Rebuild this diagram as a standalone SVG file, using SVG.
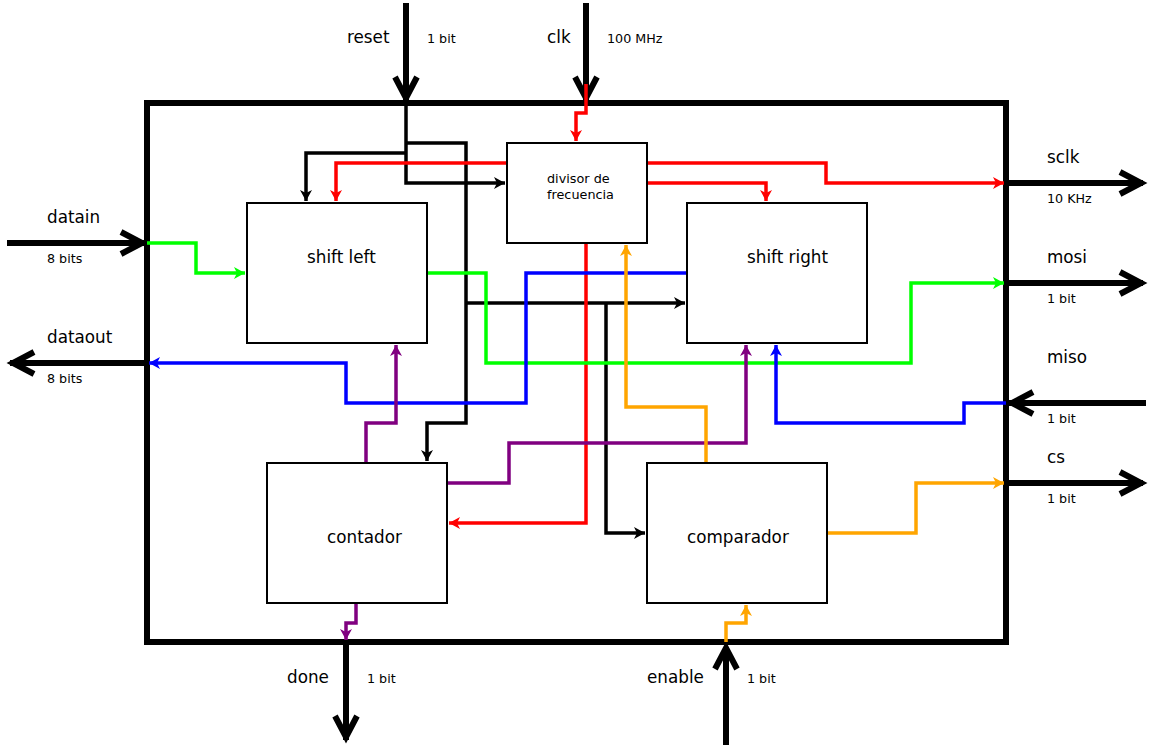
<svg xmlns="http://www.w3.org/2000/svg" width="1153" height="749" viewBox="0 0 1153 749">
  <defs>
    <style>
      text { font-family: "DejaVu Sans", "Liberation Sans", sans-serif; fill: #000; }
      .lbl { font-size: 16.8px; }
      .sub { font-size: 12.7px; }
      .small { font-size: 12.8px; }
      .box { fill: #fff; stroke: #000; stroke-width: 2; }
      .frame { fill: none; stroke: #000; stroke-width: 6; }
      .port { fill: none; stroke: #000; stroke-width: 6; }
      .vhead { fill: none; stroke: #000; stroke-width: 6; stroke-linejoin: miter; }
      .w { fill: none; stroke-width: 3.5; stroke-linejoin: miter; }
      .k { stroke: #000; }
      .r { stroke: #ff0000; }
      .g { stroke: #00ff00; }
      .b { stroke: #0000ff; }
      .p { stroke: #800080; }
      .o { stroke: #ffa500; }
    </style>
    <marker id="ak" markerUnits="userSpaceOnUse" markerWidth="14" markerHeight="14" viewBox="-12 -7 14 14" refX="0" refY="0" orient="auto"><path d="M0,0 L-11,-6 L-8,0 L-11,6 z" fill="#000"/></marker>
    <marker id="ar" markerUnits="userSpaceOnUse" markerWidth="14" markerHeight="14" viewBox="-12 -7 14 14" refX="0" refY="0" orient="auto"><path d="M0,0 L-11,-6 L-8,0 L-11,6 z" fill="#ff0000"/></marker>
    <marker id="ag" markerUnits="userSpaceOnUse" markerWidth="14" markerHeight="14" viewBox="-12 -7 14 14" refX="0" refY="0" orient="auto"><path d="M0,0 L-11,-6 L-8,0 L-11,6 z" fill="#00ff00"/></marker>
    <marker id="ab" markerUnits="userSpaceOnUse" markerWidth="14" markerHeight="14" viewBox="-12 -7 14 14" refX="0" refY="0" orient="auto"><path d="M0,0 L-11,-6 L-8,0 L-11,6 z" fill="#0000ff"/></marker>
    <marker id="ap" markerUnits="userSpaceOnUse" markerWidth="14" markerHeight="14" viewBox="-12 -7 14 14" refX="0" refY="0" orient="auto"><path d="M0,0 L-11,-6 L-8,0 L-11,6 z" fill="#800080"/></marker>
    <marker id="ao" markerUnits="userSpaceOnUse" markerWidth="14" markerHeight="14" viewBox="-12 -7 14 14" refX="0" refY="0" orient="auto"><path d="M0,0 L-11,-6 L-8,0 L-11,6 z" fill="#ffa500"/></marker>
  </defs>

  <rect width="1153" height="749" fill="#fff"/>

  <!-- system boundary -->
  <g id="frame">
    <rect class="frame" x="147" y="103" width="859" height="539"/>
  </g>

  <!-- external ports -->
  <g id="port-reset">
    <line class="port" x1="406" y1="3" x2="406" y2="101"/>
    <polyline class="vhead" points="395,77 406,98 417,77"/>
    <text class="lbl" x="347" y="43">reset</text>
    <text class="sub" x="427" y="43">1 bit</text>
  </g>
  <g id="port-clk">
    <line class="port" x1="586" y1="3" x2="586" y2="101"/>
    <polyline class="vhead" points="575,77 586,98 597,77"/>
    <text class="lbl" x="547" y="43">clk</text>
    <text class="sub" x="607" y="43">100 MHz</text>
  </g>
  <g id="port-datain">
    <line class="port" x1="7" y1="243" x2="145" y2="243"/>
    <polyline class="vhead" points="121,232 142,243 121,254"/>
    <text class="lbl" x="47" y="223">datain</text>
    <text class="sub" x="47" y="263">8 bits</text>
  </g>
  <g id="port-dataout">
    <line class="port" x1="147" y1="363" x2="10" y2="363"/>
    <polyline class="vhead" points="34,352 13,363 34,374"/>
    <text class="lbl" x="47" y="343">dataout</text>
    <text class="sub" x="47" y="383">8 bits</text>
  </g>
  <g id="port-sclk">
    <line class="port" x1="1006" y1="183" x2="1143" y2="183"/>
    <polyline class="vhead" points="1120,172 1141,183 1120,194"/>
    <text class="lbl" x="1047" y="163">sclk</text>
    <text class="sub" x="1047" y="203">10 KHz</text>
  </g>
  <g id="port-mosi">
    <line class="port" x1="1006" y1="283" x2="1143" y2="283"/>
    <polyline class="vhead" points="1120,272 1141,283 1120,294"/>
    <text class="lbl" x="1047" y="263">mosi</text>
    <text class="sub" x="1047" y="303">1 bit</text>
  </g>
  <g id="port-miso">
    <line class="port" x1="1146" y1="403" x2="1009" y2="403"/>
    <polyline class="vhead" points="1033,392 1012,403 1033,414"/>
    <text class="lbl" x="1047" y="363">miso</text>
    <text class="sub" x="1047" y="423">1 bit</text>
  </g>
  <g id="port-cs">
    <line class="port" x1="1006" y1="483" x2="1143" y2="483"/>
    <polyline class="vhead" points="1120,472 1141,483 1120,494"/>
    <text class="lbl" x="1047" y="463">cs</text>
    <text class="sub" x="1047" y="503">1 bit</text>
  </g>
  <g id="port-done">
    <line class="port" x1="346" y1="642" x2="346" y2="740"/>
    <polyline class="vhead" points="335,716 346,737 357,716"/>
    <text class="lbl" x="287" y="683">done</text>
    <text class="sub" x="367" y="683">1 bit</text>
  </g>
  <g id="port-enable">
    <line class="port" x1="726" y1="745" x2="726" y2="647"/>
    <polyline class="vhead" points="715,669 726,648 737,669"/>
    <text class="lbl" x="647" y="683">enable</text>
    <text class="sub" x="747" y="683">1 bit</text>
  </g>

  <!-- internal wiring -->
  <g id="connectors">
    <!-- reset distribution -->
    <polyline class="w k" points="406,103 406,183 505,183" marker-end="url(#ak)"/>
    <polyline class="w k" points="406,143 466,143 466,423 427,423 427,461" marker-end="url(#ak)"/>
    <polyline class="w k" points="406,153 306,153 306,201" marker-end="url(#ak)"/>
    <polyline class="w k" points="466,303 685,303" marker-end="url(#ak)"/>
    <polyline class="w k" points="606,303 606,533 645,533" marker-end="url(#ak)"/>

    <!-- clock -->
    <polyline class="w r" points="586,84 586,113 576,113 576,141" marker-end="url(#ar)"/>
    <polyline class="w r" points="507,163 336,163 336,201" marker-end="url(#ar)"/>
    <polyline class="w r" points="647,163 826,163 826,183 1004,183" marker-end="url(#ar)"/>
    <polyline class="w r" points="647,183 766,183 766,201" marker-end="url(#ar)"/>
    <polyline class="w r" points="586,243 586,523 449,523" marker-end="url(#ar)"/>

    <!-- data in / mosi -->
    <polyline class="w g" points="147,243 196,243 196,273 245,273" marker-end="url(#ag)"/>
    <polyline class="w g" points="427,273 486,273 486,363 911,363 911,283 1004,283" marker-end="url(#ag)"/>

    <!-- miso / data out -->
    <polyline class="w b" points="687,273 526,273 526,403 346,403 346,363 149,363" marker-end="url(#ab)"/>
    <polyline class="w b" points="1006,403 964,403 964,423 776,423 776,345" marker-end="url(#ab)"/>

    <!-- counter outputs -->
    <polyline class="w p" points="366,463 366,423 396,423 396,345" marker-end="url(#ap)"/>
    <polyline class="w p" points="447,483 509,483 509,443 746,443 746,345" marker-end="url(#ap)"/>
    <polyline class="w p" points="356,603 356,623 346,623 346,640" marker-end="url(#ap)"/>

    <!-- comparator -->
    <polyline class="w o" points="706,463 706,407 626,407 626,245" marker-end="url(#ao)"/>
    <polyline class="w o" points="827,533 916,533 916,483 1004,483" marker-end="url(#ao)"/>
    <polyline class="w o" points="726,642 726,623 746,623 746,605" marker-end="url(#ao)"/>
  </g>

  <!-- functional blocks -->
  <g id="divisor">
    <rect class="box" x="507" y="143" width="140" height="100"/>
    <text class="small" x="547" y="183">divisor de</text>
    <text class="small" x="547" y="199">frecuencia</text>
  </g>
  <g id="shift-left">
    <rect class="box" x="247" y="203" width="180" height="140"/>
    <text class="lbl" x="307" y="263">shift left</text>
  </g>
  <g id="shift-right">
    <rect class="box" x="687" y="203" width="180" height="140"/>
    <text class="lbl" x="747" y="263">shift right</text>
  </g>
  <g id="contador">
    <rect class="box" x="267" y="463" width="180" height="140"/>
    <text class="lbl" x="327" y="543">contador</text>
  </g>
  <g id="comparador">
    <rect class="box" x="647" y="463" width="180" height="140"/>
    <text class="lbl" x="687" y="543">comparador</text>
  </g>
</svg>
